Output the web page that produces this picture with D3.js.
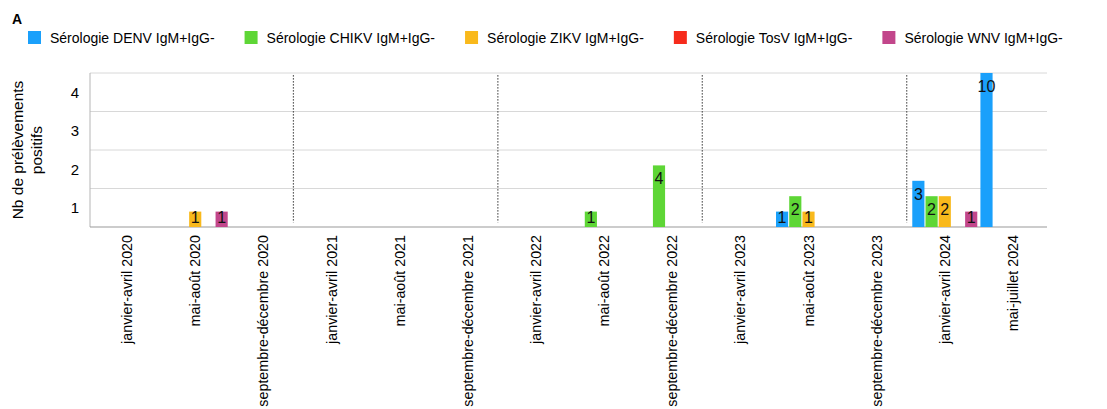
<!DOCTYPE html>
<html>
<head>
<meta charset="utf-8">
<script src="https://cdn.jsdelivr.net/npm/d3@7"></script>
<style>
  body { margin: 0; background: #fff; }
  svg { font-family: "Liberation Sans", Arial, Helvetica, sans-serif; }
</style>
</head>
<body>
<div class="chart"></div>
<script>
// periods on the x axis
const periods = [
    "janvier-avril 2020", "mai-août 2020", "septembre-décembre 2020",
    "janvier-avril 2021", "mai-août 2021", "septembre-décembre 2021",
    "janvier-avril 2022", "mai-août 2022", "septembre-décembre 2022",
    "janvier-avril 2023", "mai-août 2023", "septembre-décembre 2023",
    "janvier-avril 2024", "mai-juillet 2024"
];

const seriesNames = [
    "Sérologie DENV IgM+IgG-",
    "Sérologie CHIKV IgM+IgG-",
    "Sérologie ZIKV IgM+IgG-",
    "Sérologie TosV IgM+IgG-",
    "Sérologie WNV IgM+IgG-"
];
const seriesColors = ["#1aa0fb", "#5ed636", "#f9b91c", "#f62b1c", "#c2468b"];

// counts per period (0 = no bar)
const denv  = [0, 0, 0, 0, 0, 0, 0, 0, 0, 0, 1, 0, 3, 10];
const chikv = [0, 0, 0, 0, 0, 0, 0, 1, 4, 0, 2, 0, 2, 0];
const zikv  = [0, 1, 0, 0, 0, 0, 0, 0, 0, 0, 1, 0, 2, 0];
const tosv  = [0, 0, 0, 0, 0, 0, 0, 0, 0, 0, 0, 0, 0, 0];
const wnv   = [0, 1, 0, 0, 0, 0, 0, 0, 0, 0, 0, 0, 1, 0];
const allSeries = [denv, chikv, zikv, tosv, wnv];

// y axis: gridlines and the (offset) tick labels as they appear on the figure
const gridValues = [2.5, 5, 7.5, 10];
const yTickLabels = ["1", "2", "3", "4"];
const yTickPos = [1.25, 3.75, 6.25, 8.75];

const width = 1107, height = 409;
const plotLeft = 90, plotRight = 1047, plotTop = 73, plotBottom = 227;

const svg = d3.select(".chart").append("svg")
    .attr("width", width)
    .attr("height", height);

const x = d3.scaleBand()
    .domain(periods)
    .range([93, plotRight]);

const x1 = d3.scaleBand()
    .domain(seriesNames)
    .range([-32.5, 32.5])
    .paddingInner(0.08);

const y = d3.scaleLinear()
    .domain([0, 10])
    .range([plotBottom, plotTop]);

// panel letter
svg.append("text")
    .attr("x", 12).attr("y", 24)
    .style("font-weight", "bold")
    .style("font-size", "14px")
    .text("A");

// legend
const legend = svg.append("g").attr("transform", "translate(28,31)");
let lx = 0;
seriesNames.forEach((name, i) => {
    const g = legend.append("g").attr("transform", `translate(${lx},0)`);
    g.append("rect")
        .attr("width", 13).attr("height", 13)
        .attr("fill", seriesColors[i]);
    const t = g.append("text")
        .attr("x", 22).attr("y", 12)
        .style("font-size", "14px")
        .text(name);
    lx += 22 + t.node().getComputedTextLength() + 30;
});

// gridlines
svg.append("g")
    .selectAll("line")
    .data(gridValues)
    .join("line")
    .attr("x1", plotLeft).attr("x2", plotRight)
    .attr("y1", d => y(d)).attr("y2", d => y(d))
    .attr("stroke", "#d8d8d8")
    .attr("stroke-width", 1);

// left axis and baseline
svg.append("line")
    .attr("x1", plotLeft).attr("x2", plotLeft)
    .attr("y1", y(10)).attr("y2", y(0))
    .attr("stroke", "#b5b5b5");
svg.append("line")
    .attr("x1", plotLeft).attr("x2", plotRight)
    .attr("y1", y(0)).attr("y2", y(0))
    .attr("stroke", "#999");

// y tick labels
svg.append("g")
    .selectAll("text")
    .data(yTickLabels)
    .join("text")
    .attr("x", 79)
    .attr("y", (d, i) => y(yTickPos[i]))
    .attr("dy", "0.35em")
    .attr("text-anchor", "end")
    .style("font-size", "15px")
    .text(d => d);

// y title
svg.append("text")
    .attr("transform", "translate(23,150) rotate(-90)")
    .attr("text-anchor", "middle")
    .style("font-size", "15.5px")
    .selectAll("tspan")
    .data(["Nb de prélèvements", "positifs"])
    .join("tspan")
    .attr("x", 0)
    .attr("dy", (d, i) => i === 0 ? "0em" : "1.2em")
    .text(d => d);

// dotted year separators
const yearStarts = periods.filter((p, i) => i > 0 && p.startsWith("janvier"));
svg.append("g")
    .selectAll("line")
    .data(yearStarts)
    .join("line")
    .attr("x1", d => x(d) - 4).attr("x2", d => x(d) - 4)
    .attr("y1", y(9.85)).attr("y2", y(0.3))
    .attr("stroke", "#333")
    .attr("stroke-width", 1.2)
    .attr("stroke-dasharray", "1.2,1.8");

// bars
const barData = [];
allSeries.forEach((values, s) => {
    values.forEach((v, i) => {
        if (v > 0) barData.push({ period: periods[i], series: seriesNames[s], color: seriesColors[s], value: v });
    });
});

const bars = svg.append("g");
bars.selectAll("rect")
    .data(barData)
    .join("rect")
    .attr("x", d => x(d.period) + x.bandwidth() / 2 + x1(d.series))
    .attr("y", d => y(d.value))
    .attr("width", x1.bandwidth())
    .attr("height", d => y(0) - y(d.value))
    .attr("fill", d => d.color);

bars.selectAll("text")
    .data(barData)
    .join("text")
    .attr("x", d => x(d.period) + x.bandwidth() / 2 + x1(d.series) + x1.bandwidth() / 2)
    .attr("y", d => Math.min(y(d.value) + 19, y(0) - 4))
    .attr("text-anchor", "middle")
    .style("font-size", "16px")
    .attr("fill", "#111")
    .text(d => d.value);

// x labels
svg.append("g")
    .selectAll("text")
    .data(periods)
    .join("text")
    .attr("transform", d => `translate(${x(d) + x.bandwidth() / 2},235) rotate(-90)`)
    .attr("text-anchor", "end")
    .attr("dy", "0.35em")
    .style("font-size", "14.3px")
    .text(d => d);
</script>
</body>
</html>
